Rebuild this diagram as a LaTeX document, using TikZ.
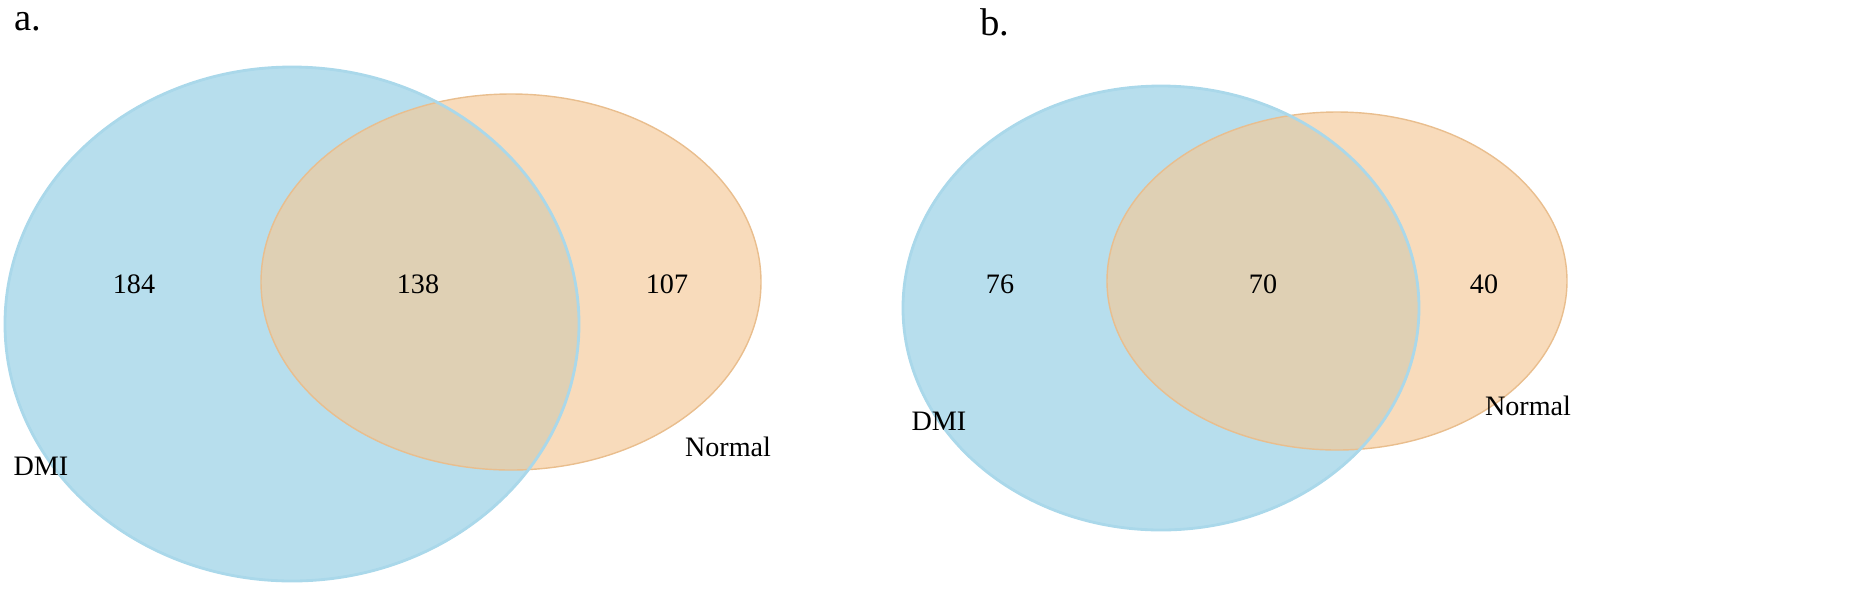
\documentclass[tikz,border=0pt]{standalone}
\usepackage{fontspec}
\setmainfont{Liberation Serif}
\definecolor{dmiblue}{RGB}{170,216,234}
\definecolor{normorange}{RGB}{245,200,150}
\begin{document}
\begin{tikzpicture}[x=0.01cm, y=-0.01cm,
  setdmi/.style = {fill = dmiblue, draw = dmiblue!90!black, fill opacity = 0.85},
  setnorm/.style = {fill = normorange, draw = normorange!95!black, fill opacity = 0.65},
  count/.style = {font = \fontsize{8}{9}\selectfont},
  panel/.style = {font = \fontsize{11}{12}\selectfont}]
\useasboundingbox (0, 0) rectangle (1862, 596);
% panel a
\fill[setdmi] (292, 324) ellipse [x radius = 287, y radius = 257];
\fill[setnorm] (511, 282) ellipse [x radius = 250, y radius = 188];
\draw[dmiblue, thick] (292, 324) ellipse [x radius = 287, y radius = 257];
\node[panel] (tagA) at (28, 22) {a.};
\node[count] (onlyA) at (134, 284) {184};
\node[count] (bothA) at (418, 284) {138};
\node[count] (restA) at (667, 284) {107};
\node[count] (dmiA) at (41, 466) {DMI};
\node[count] (normA) at (728, 447) {Normal};
% panel b
\fill[setdmi] (1161, 308) ellipse [x radius = 258, y radius = 222];
\fill[setnorm] (1337, 281) ellipse [x radius = 230, y radius = 169];
\draw[dmiblue, thick] (1161, 308) ellipse [x radius = 258, y radius = 222];
\node[panel] (tagB) at (995, 22) {b.};
\node[count] (onlyB) at (1000, 284) {76};
\node[count] (bothB) at (1263, 284) {70};
\node[count] (restB) at (1484, 284) {40};
\node[count] (dmiB) at (939, 421) {DMI};
\node[count] (normB) at (1528, 406) {Normal};
\end{tikzpicture}
\end{document}
